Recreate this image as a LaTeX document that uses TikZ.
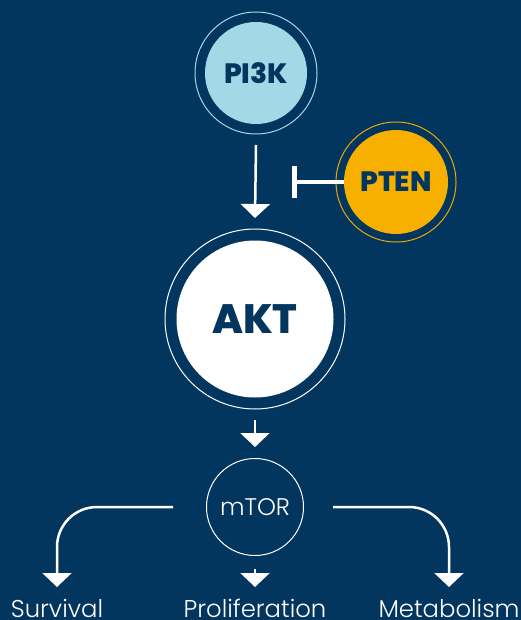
\documentclass[tikz,border=0pt]{standalone}
\usepackage{fontspec}
\usetikzlibrary{arrows.meta}
\newfontfamily\heavyf{Poppins ExtraBold}
\newfontfamily\lightf{Poppins Light}
\definecolor{navy}{HTML}{03365F}
\definecolor{skyfill}{HTML}{A5D8E7}
\definecolor{goldfill}{HTML}{F8B000}
\definecolor{goldring}{HTML}{E9A900}
\tikzset{
  core/.style={circle, inner sep=0pt, text=navy, font=\heavyf},
  ring/.style={line width=1pt},
  flow/.style={draw=white, line width=2.5pt, -{Triangle[width=29pt,length=14pt]}},
  inhib/.style={draw=white, line width=4pt, -{Bar[width=32pt,line width=5pt]}},
  outcome/.style={text=white, inner sep=0pt, font=\lightf\fontsize{24.3}{26}\selectfont, anchor=base}
}
\begin{document}
\begin{tikzpicture}[x=1pt,y=-1pt]
  \fill[navy] (0,0) rectangle (521,620);
  \useasboundingbox (0,0) rectangle (521,620);

  % PI3K
  \node[core, fill=skyfill, minimum size=102pt, font=\heavyf\fontsize{28}{30}\selectfont] (pi3k) at (256,73) {PI3K};
  \draw[ring, skyfill] (pi3k.center) circle (61pt);
  \coordinate (pi3kout) at (256,145);

  % PTEN
  \node[core, fill=goldfill, minimum size=104pt, font=\heavyf\fontsize{28}{30}\selectfont] (pten) at (396,182) {PTEN};
  \draw[ring, goldring] (pten.center) circle (60pt);
  \coordinate (tbar) at (292,182);

  % AKT
  \node[core, fill=white, minimum size=157pt, font=\heavyf\fontsize{41}{44}\selectfont] (akt) at (255,319) {AKT};
  \draw[ring, white] (akt.center) circle (90pt);
  \coordinate (aktin) at (255,218);
  \coordinate (aktout) at (255,420);

  % mTOR
  \node[circle, draw=white, line width=1pt, minimum size=97pt, inner sep=0pt,
        text=white, font=\lightf\fontsize{24}{26}\selectfont] (mtor) at (255,507) {mTOR};
  \coordinate (mtorin) at (255,447);
  \coordinate (mtorL) at (173,507);
  \coordinate (mtorR) at (333,507);
  \coordinate (mtorB) at (255,569);

  % outcomes
  \node[outcome] (surv) at (57,617) {Survival};
  \node[outcome] (prol) at (255,617) {Proliferation};
  \node[outcome] (meta) at (449,617) {Metabolism};
  \coordinate (survin) at (57,587);
  \coordinate (prolin) at (255,587);
  \coordinate (metain) at (449,587);

  % connectors
  \draw[flow] (pi3kout) -- (aktin);
  \draw[inhib] (pten.west) -- (tbar);
  \draw[flow] (aktout) -- (mtorin);
  \draw[flow, rounded corners=40pt] (mtorL) -- (57,507) -- (survin);
  \draw[flow, rounded corners=40pt] (mtorR) -- (449,507) -- (metain);
  \draw[flow] (mtorB) -- (prolin);
\end{tikzpicture}
\end{document}
